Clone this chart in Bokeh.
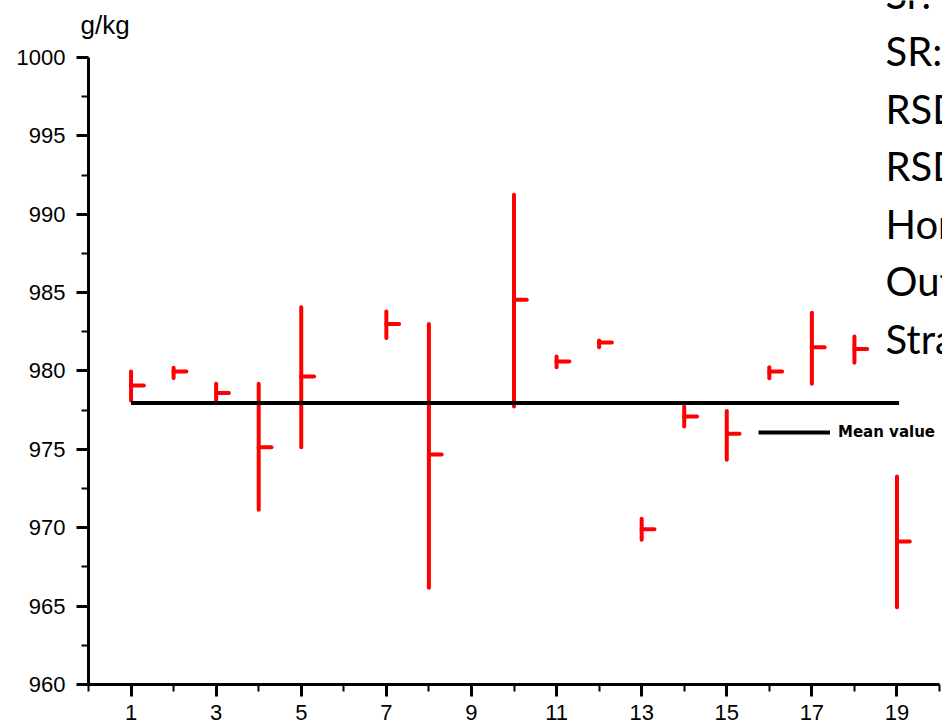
from bokeh.plotting import figure
from bokeh.models import FixedTicker, Label, ColumnDataSource
from bokeh.embed import file_html
from bokeh.resources import INLINE

# ---- data ----
labs = [1, 2, 3, 4, 5, 7, 8, 10, 11, 12, 13, 14, 15, 16, 17, 18, 19]
lab_means = [979.07, 979.97, 978.60, 975.14, 979.65, 983.00, 974.67, 984.54, 980.60,
             981.82, 969.90, 977.10, 975.99, 979.97, 981.52, 981.40, 969.12]
lab_highs = [979.97, 980.20, 979.18, 979.18, 984.07, 983.80, 983.00, 991.24, 980.92,
             981.95, 970.57, 977.73, 977.44, 980.24, 983.71, 982.20, 973.27]
lab_lows = [978.12, 979.56, 978.12, 971.15, 975.14, 982.10, 966.17, 977.73, 980.24,
            981.52, 969.23, 976.46, 974.34, 979.54, 979.18, 980.52, 964.93]
mean_value = 977.95

x_major_ticks = [1, 3, 5, 7, 9, 11, 13, 15, 17, 19]
x_minor_ticks = [0, 2, 4, 6, 8, 10, 12, 14, 16, 18, 20]
y_major_ticks = [960, 965, 970, 975, 980, 985, 990, 995, 1000]
y_minor_ticks = [962.5, 967.5, 972.5, 977.5, 982.5, 987.5, 992.5, 997.5]

y_unit = "g/kg"
legend_text = "Mean value"
side_texts = ["Sr:", "SR:", "RSD", "RSD", "Hor", "Out", "Stra"]

# ---- figure ----
TICK_LEN = 0.3  # length of the mean marker, x units

p = figure(width=942, height=725, output_backend="svg", toolbar_location=None,
           title=None, x_range=(-2.068, 20.07), y_range=(957.38, 1003.64),
           min_border=0, min_border_left=0, min_border_right=0,
           min_border_top=0, min_border_bottom=0)
p.outline_line_color = None
p.xgrid.visible = False
p.ygrid.visible = False
p.background_fill_color = "white"

src = ColumnDataSource(dict(
    x=labs, hi=lab_highs, lo=lab_lows, m=lab_means,
    xm=[v + TICK_LEN for v in labs]))

p.segment(x0="x", y0="lo", x1="x", y1="hi", source=src,
          line_color="#ff0000", line_width=4, line_cap="round")
p.segment(x0="x", y0="m", x1="xm", y1="m", source=src,
          line_color="#ff0000", line_width=4, line_cap="round")

p.line(x=[labs[0], labs[-1] + 0.05], y=[mean_value, mean_value],
       line_color="black", line_width=4, legend_label=legend_text)

# ---- axes ----
for ax in (p.xaxis[0], p.yaxis[0]):
    ax.axis_line_width = 3
    ax.axis_line_color = "black"
    ax.major_tick_line_width = 3
    ax.minor_tick_line_width = 2
    ax.major_tick_in = 0
    ax.minor_tick_in = 0
    ax.major_tick_out = 12
    ax.minor_tick_out = 7
    ax.major_label_text_font = "Liberation Sans"
    ax.major_label_text_font_size = "22px"
    ax.major_label_text_color = "black"

p.xaxis[0].ticker = FixedTicker(ticks=x_major_ticks, minor_ticks=x_minor_ticks)
p.xaxis[0].bounds = (0, 20)
p.xaxis[0].fixed_location = y_major_ticks[0]
p.xaxis[0].major_label_standoff = 9

p.yaxis[0].ticker = FixedTicker(ticks=y_major_ticks, minor_ticks=y_minor_ticks)
p.yaxis[0].bounds = (y_major_ticks[0], y_major_ticks[-1])
p.yaxis[0].fixed_location = x_minor_ticks[0]
p.yaxis[0].major_label_standoff = 11

# ---- legend ----
lg = p.legend[0]
lg.location = (758, 283)
lg.glyph_width = 72
lg.glyph_height = 20
lg.label_height = 20
lg.label_standoff = 8
lg.padding = 0
lg.margin = 0
lg.spacing = 0
lg.border_line_alpha = 0
lg.background_fill_alpha = 0
lg.label_text_font = "DejaVu Sans"
lg.label_text_font_style = "bold"
lg.label_text_font_size = "15px"
lg.label_text_color = "black"

# ---- texts ----
p.add_layout(Label(x=80, y=701, x_units="screen", y_units="screen", text=y_unit,
                   text_font="Liberation Sans", text_font_size="26px",
                   text_color="black", text_baseline="alphabetic"))

for i, t in enumerate(side_texts):
    p.add_layout(Label(x=885, y=732 - 57.5 * i, x_units="screen", y_units="screen",
                       text=t, text_font="Lato", text_font_size="40px",
                       text_color="black", text_baseline="alphabetic"))

open("out.html", "w").write(file_html(p, INLINE))
